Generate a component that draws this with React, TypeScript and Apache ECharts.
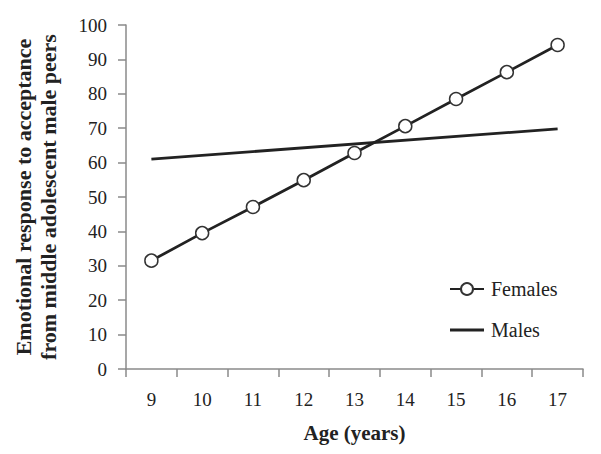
import React, { useEffect, useRef } from "react";
import * as echarts from "echarts";

const ages = ["9", "10", "11", "12", "13", "14", "15", "16", "17"];
const females = [31.5, 39.5, 47.1, 54.9, 62.8, 70.6, 78.5, 86.3, 94.2];
const males = [61.0, null, null, null, null, null, null, null, 69.8];
const yTicks = { min: 0, max: 100, interval: 10 };

const FONT = "'Liberation Serif', 'Times New Roman', serif";

export default function App() {
  const ref = useRef<HTMLDivElement>(null);
  useEffect(() => {
    if (!ref.current) return;
    const chart = echarts.init(ref.current, undefined, { renderer: "svg" });
    const axisColor = "#8a8a8a";
    chart.setOption({
      animation: false,
      backgroundColor: "#ffffff",
      grid: { left: 126, right: 18, top: 25, bottom: 85 },
      legend: {
        orient: "vertical",
        left: 444,
        top: 274,
        itemWidth: 34,
        itemHeight: 15,
        itemGap: 21,
        textStyle: { fontFamily: FONT, fontSize: 20, color: "#222", padding: [0, 0, 0, 2] },
        data: [
          { name: "Females" },
          { name: "Males", icon: "path://M0,0 L34,0 L34,3 L0,3 Z", itemStyle: { color: "#222" } },
        ],
      },
      xAxis: {
        type: "category",
        data: ages,
        boundaryGap: true,
        name: "Age (years)",
        nameLocation: "middle",
        nameGap: 53,
        nameTextStyle: { fontFamily: FONT, fontSize: 21, fontWeight: "bold", color: "#222" },
        axisLine: { lineStyle: { color: axisColor, width: 1.5 } },
        axisTick: { show: true, length: 8, alignWithLabel: false, lineStyle: { color: axisColor, width: 1.5 } },
        axisLabel: { fontFamily: FONT, fontSize: 19, color: "#222", margin: 21 },
        splitLine: { show: false },
      },
      yAxis: {
        type: "value",
        min: yTicks.min,
        max: yTicks.max,
        interval: yTicks.interval,
        name: "Emotional response to acceptance\nfrom middle adolescent male peers",
        nameLocation: "middle",
        nameRotate: 90,
        nameGap: 65,
        nameTextStyle: { fontFamily: FONT, fontSize: 22, fontWeight: "bold", color: "#222", lineHeight: 25 },
        axisLine: { show: true, lineStyle: { color: axisColor, width: 1.5 } },
        axisTick: { show: true, length: 8, lineStyle: { color: axisColor, width: 1.5 } },
        axisLabel: { fontFamily: FONT, fontSize: 19, color: "#222", margin: 19 },
        splitLine: { show: false },
      },
      series: [
        {
          name: "Females",
          type: "line",
          data: females,
          symbol: "circle",
          symbolSize: 13,
          lineStyle: { color: "#222", width: 2.8 },
          itemStyle: { color: "#ffffff", borderColor: "#333", borderWidth: 1.5 },
          z: 3,
        },
        {
          name: "Males",
          type: "line",
          data: males,
          connectNulls: true,
          symbol: "none",
          lineStyle: { color: "#222", width: 2.8 },
          itemStyle: { color: "#222" },
          z: 2,
        },
      ],
    });
    return () => chart.dispose();
  }, []);
  return <div ref={ref} style={{ width: 601, height: 454, position: "absolute", left: 0, top: 0 }} />;
}
